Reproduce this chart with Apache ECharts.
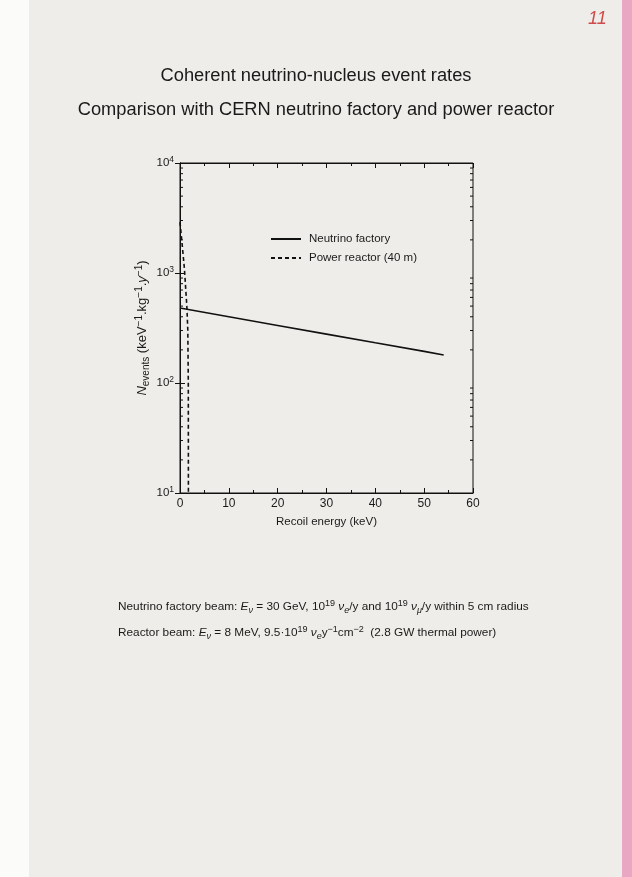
<!DOCTYPE html>
<html><head><meta charset="utf-8">
<script src="https://cdn.jsdelivr.net/npm/echarts@6/dist/echarts.min.js"></script>
<style>html,body{margin:0;padding:0;background:#efede9}#c{width:632px;height:877px}</style>
</head><body><div id="c"></div>
<script>
// Data
var energyNF = [0, 10, 20, 30, 40, 50, 54];
var ratesNF = [480, 400, 333, 278, 232, 194, 180];
var energyPR = [0, 0.4, 0.9, 1.4, 1.6, 1.7, 1.72];
var ratesPR = [2900, 1900, 1100, 500, 300, 100, 10];
var xTicks = [0, 10, 20, 30, 40, 50, 60];
var yTickExps = [1, 2, 3, 4];
var yMinorTicks = [20,30,40,50,60,70,80,90,200,300,400,500,600,700,800,900,2000,3000,4000,5000,6000,7000,8000,9000];
var seriesNames = ['Neutrino factory', 'Power reactor (40 m)'];

var font = '"Liberation Sans", Arial, sans-serif';
var chart = echarts.init(document.getElementById('c'), null, {renderer: 'canvas'});

function pairs(xs, ys) { return xs.map(function (x, i) { return [x, ys[i]]; }); }

var noteRich = {
  i: {fontStyle: 'italic', fontSize: 11.8, fontFamily: font},
  sub: {fontSize: 9, fontStyle: 'italic', fontFamily: font, padding: [6, 0, 0, 0]},
  sup: {fontSize: 9, fontFamily: font, padding: [0, 0, 6, 0]}
};

var option = {
  backgroundColor: '#efede9',
  animation: false,
  textStyle: {fontFamily: font},
  graphic: [
    {type: 'rect', shape: {x: 0, y: 0, width: 29, height: 877}, style: {fill: '#fbfbfa'}, z: -10},
    {type: 'rect', shape: {x: 622, y: 0, width: 10, height: 877}, style: {fill: '#eaa7c4'}, z: -10},
    {type: 'text', left: 588, top: 10, style: {text: '11', font: 'italic 18px ' + font, fill: '#d04a4a'}},
    {type: 'text', left: 'center', top: 67, style: {text: 'Coherent neutrino-nucleus event rates', font: '18.3px ' + font, fill: '#1a1a1a'}},
    {type: 'text', left: 'center', top: 101, style: {text: 'Comparison with CERN neutrino factory and power reactor', font: '18.3px ' + font, fill: '#1a1a1a'}},
    {type: 'text', left: 118, top: 598, style: {
      text: 'Neutrino factory beam: {i|E}{sub|ν} = 30 GeV, 10{sup|19} {i|ν}{sub|e}/y and 10{sup|19} {i|ν}{sub|μ}/y within 5 cm radius',
      font: '11.8px ' + font, fill: '#1a1a1a', lineHeight: 18, rich: noteRich}},
    {type: 'text', left: 118, top: 624, style: {
      text: 'Reactor beam: {i|E}{sub|ν} = 8 MeV, 9.5·10{sup|19} {i|ν}{sub|e}y{sup|−1}cm{sup|−2}  (2.8 GW thermal power)',
      font: '11.8px ' + font, fill: '#1a1a1a', lineHeight: 18, rich: noteRich}}
  ],
  legend: {
    orient: 'vertical', left: 265, top: 228, itemWidth: 30, itemHeight: 10, itemGap: 7,
    data: seriesNames,
    itemStyle: {opacity: 0},
    textStyle: {fontSize: 11.5, color: '#1a1a1a', fontFamily: font, padding: [0, 0, 0, 3]}
  },
  grid: {left: 180, right: 159, top: 163, bottom: 384, show: true, borderColor: '#111', borderWidth: 1, backgroundColor: 'transparent'},
  xAxis: [{
    type: 'value', min: 0, max: 60, interval: 10,
    name: 'Recoil energy (keV)', nameLocation: 'middle', nameGap: 23,
    nameTextStyle: {fontSize: 11.5, color: '#1a1a1a'},
    axisLine: {show: true, lineStyle: {color: '#111'}},
    axisTick: {show: true, inside: true, length: 5, lineStyle: {color: '#111'}},
    minorTick: {show: true, splitNumber: 2, length: 3, lineStyle: {color: '#111'}},
    axisLabel: {fontSize: 12, color: '#1a1a1a', margin: 5},
    splitLine: {show: false}
  }, {
    type: 'value', min: 0, max: 60, interval: 10, position: 'top',
    axisLine: {show: true, lineStyle: {color: '#111'}},
    axisTick: {show: true, inside: true, length: 5, lineStyle: {color: '#111'}},
    minorTick: {show: true, splitNumber: 2, length: 3, lineStyle: {color: '#111'}},
    axisLabel: {show: false}, splitLine: {show: false}
  }],
  yAxis: [{
    type: 'log', min: 10, max: 10000, logBase: 10,
    name: '{i|N}{sub|events} (keV{sup|−1}.kg{sup|−1}.{i|y}{sup|−1})',
    nameLocation: 'middle', nameRotate: 90, nameGap: 29,
    nameTextStyle: {fontSize: 13, color: '#1a1a1a', rich: {
      i: {fontStyle: 'italic', fontSize: 13, color: '#1a1a1a'},
      sub: {fontSize: 10, color: '#1a1a1a', padding: [7, 0, 0, 0]},
      sup: {fontSize: 10, color: '#1a1a1a', padding: [0, 0, 7, 0]}
    }},
    axisLine: {show: true, lineStyle: {color: '#111'}},
    axisTick: {show: true, inside: true, length: 5, lineStyle: {color: '#111'}},
    axisLabel: {margin: 6, color: '#1a1a1a', formatter: function (v) {
      return '{b|10}{s|' + Math.round(Math.log10(v)) + '}';
    }, rich: {b: {fontSize: 11.5, color: '#1a1a1a'}, s: {fontSize: 8.5, color: '#1a1a1a', padding: [0, 0, 6, 0]}}},
    splitLine: {show: false}
  }, {
    type: 'log', min: 10, max: 10000, logBase: 10, position: 'right',
    axisLine: {show: true, lineStyle: {color: '#111'}},
    axisTick: {show: true, inside: true, length: 5, lineStyle: {color: '#111'}},
    axisLabel: {show: false}, splitLine: {show: false}
  }],
  series: [{
    name: seriesNames[0], type: 'line', data: pairs(energyNF, ratesNF),
    showSymbol: false, symbol: 'none', lineStyle: {color: '#111', width: 1.6}, itemStyle: {color: '#111'}
  }, {
    name: seriesNames[1], type: 'line', data: pairs(energyPR, ratesPR),
    showSymbol: false, symbol: 'none', lineStyle: {color: '#111', width: 1.6, type: [4, 3]}, itemStyle: {color: '#111'}
  }, {
    name: 'minorTicksY', type: 'custom', data: yMinorTicks.map(function (v) { return [0, v]; }),
    silent: true, clip: false,
    renderItem: function (params, api) {
      var v = api.value(1);
      var l = api.coord([0, v]);
      var r = api.coord([60, v]);
      return {type: 'group', children: [
        {type: 'line', shape: {x1: l[0], y1: l[1], x2: l[0] + 3, y2: l[1]}, style: {stroke: '#111', lineWidth: 1}},
        {type: 'line', shape: {x1: r[0], y1: r[1], x2: r[0] - 3, y2: r[1]}, style: {stroke: '#111', lineWidth: 1}}
      ]};
    }
  }]
};
chart.setOption(option);
</script></body></html>
